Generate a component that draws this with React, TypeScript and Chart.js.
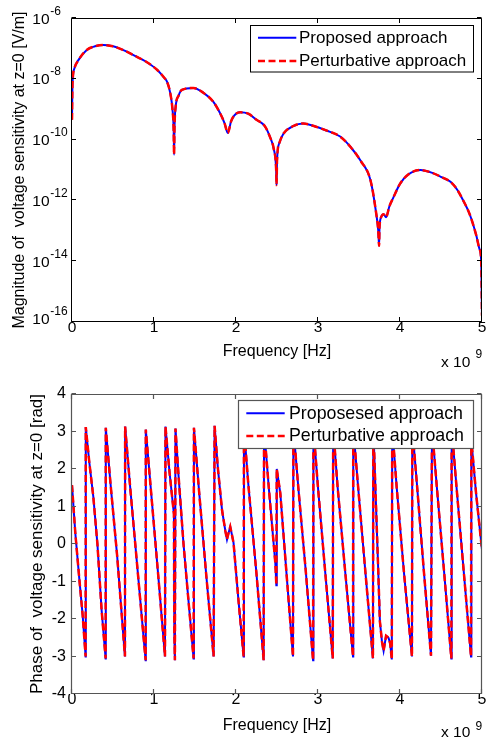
import React, { useEffect, useRef } from 'react';
import { Chart, registerables } from 'chart.js';

Chart.register(...registerables);

const FONT = '"Liberation Sans", Arial, Helvetica, sans-serif';

// ---------- tick labels ----------
const freqTicks = [0, 1, 2, 3, 4, 5];
const magTickExponents = [-16, -14, -12, -10, -8, -6];
const phaseTicks = [-4, -3, -2, -1, 0, 1, 2, 3, 4];

// ---------- top chart: magnitude (frequency in units of 1e9 Hz) ----------
const magFreq = [
  0.0, 0.005, 0.012, 0.03, 0.08, 0.18, 0.28, 0.38, 0.5, 0.62, 0.75, 0.9, 1.04, 1.12, 1.16, 1.2,
  1.225, 1.24, 1.245, 1.25, 1.265, 1.3, 1.34, 1.48, 1.6, 1.72, 1.8, 1.86, 1.9, 1.94, 1.98, 2.05,
  2.15, 2.25, 2.35, 2.42, 2.46, 2.49, 2.495, 2.5, 2.53, 2.58, 2.7, 2.82, 2.95, 3.1, 3.27, 3.4,
  3.52, 3.64, 3.71, 3.735, 3.745, 3.75, 3.77, 3.8, 3.83, 3.87, 3.92, 4.0, 4.1, 4.25, 4.4, 4.52,
  4.62, 4.7, 4.77, 4.85, 4.93, 4.97, 4.99, 5.0,
];
const magProposed = [
  4.5e-10, 5.0e-9, 1.26e-8, 2.24e-8, 4.2e-8, 8.9e-8, 1.17e-7, 1.29e-7, 1.17e-7, 8.9e-8, 6.0e-8, 3.7e-8, 1.95e-8, 1.12e-8, 7.9e-9, 3.2e-9,
  1.0e-9, 2.0e-10, 3.2e-11, 2.5e-10, 1.26e-9, 2.8e-9, 4.3e-9, 5.0e-9, 3.5e-9, 1.8e-9, 7.9e-10, 3.5e-10, 1.66e-10, 4.0e-10, 6.3e-10, 7.9e-10,
  7.1e-10, 4.5e-10, 2.8e-10, 1.12e-10, 5.0e-11, 1.0e-11, 3.2e-12, 2.0e-11, 7.9e-11, 1.58e-10, 2.8e-10, 3.4e-10, 2.8e-10, 2.0e-10, 1.26e-10, 5.6e-11,
  2.0e-11, 4.6e-12, 3.7e-13, 1.0e-13, 3.2e-14, 1.26e-13, 2.8e-13, 3.5e-13, 2.8e-13, 6.3e-13, 1.26e-12, 3.5e-12, 7.1e-12, 1.0e-11, 7.9e-12, 5.6e-12,
  4.0e-12, 2.2e-12, 1.0e-12, 3.5e-13, 7.1e-14, 2.5e-14, 1.07e-14, 1.6e-16,
];
const magPerturbative = magProposed;

// ---------- bottom chart: phase ----------
const phaseFreq = [
  0.0, 0.04, 0.09, 0.13, 0.166, 0.168, 0.21, 0.26, 0.31, 0.361, 0.41, 0.412, 0.47, 0.55, 0.646, 0.648,
  0.71, 0.8, 0.898, 0.9, 0.96, 1.05, 1.134, 1.14, 1.19, 1.243, 1.248, 1.255, 1.262, 1.3, 1.36, 1.42,
  1.483, 1.487, 1.55, 1.64, 1.727, 1.739, 1.78, 1.83, 1.87, 1.89, 1.91, 1.93, 1.95, 1.97, 2.03, 2.093,
  2.097, 2.15, 2.25, 2.337, 2.342, 2.4, 2.48, 2.492, 2.497, 2.54, 2.62, 2.695, 2.7, 2.76, 2.85, 2.94,
  2.944, 3.0, 3.09, 3.18, 3.185, 3.24, 3.33, 3.427, 3.43, 3.49, 3.58, 3.67, 3.675, 3.7, 3.73, 3.755,
  3.78, 3.8, 3.83, 3.86, 3.88, 3.9, 3.905, 3.96, 4.05, 4.146, 4.15, 4.21, 4.29, 4.378, 4.39, 4.45,
  4.54, 4.626, 4.63, 4.69, 4.78, 4.866, 4.87, 4.93, 5.0,
];
const phaseProposed = [
  1.57, 0.3, -0.95, -1.9, -3.0, 3.12, 2.2, 1.26, 0.0, -1.76, -3.05, 3.1, 1.6, -0.3, -3.0, 3.13,
  1.5, -0.7, -3.1, 3.05, 1.5, -0.8, -3.0, 3.13, 1.9, 0.8, -2.4, -3.1, 3.08, 1.8, 0.0, -1.5,
  -3.05, 3.1, 1.4, -0.9, -3.0, 3.15, 2.0, 0.9, 0.35, 0.12, 0.3, 0.46, 0.25, 0.03, -1.5, -3.0,
  3.1, 1.6, -0.8, -3.1, 3.1, 1.5, -0.52, -1.1, 2.0, 1.36, -0.9, -3.0, 3.1, 1.5, -0.7, -3.1,
  3.1, 1.5, -0.8, -3.05, 3.1, 1.5, -0.7, -3.0, 3.1, 1.5, -0.8, -3.05, 3.1, 1.5, -0.4, -2.07,
  -2.6, -2.85, -2.45, -2.5, -2.65, -3.08, 3.1, 1.5, -0.8, -3.0, 3.1, 1.5, -0.7, -2.98, 3.1, 1.5,
  -0.8, -3.05, 3.1, 1.5, -0.8, -3.0, 2.77, 1.3, -0.15,
];
const phasePerturbative = phaseProposed;

const BLUE = '#0000ff';
const RED = '#ff0000';

const framePlugin = {
  id: 'frameAndLegend',
  afterDraw(chart: any, _args: any, opts: any) {
    const { ctx, chartArea: a, scales } = chart;
    ctx.save();
    ctx.strokeStyle = opts.axisColor;
    ctx.lineWidth = opts.axisWidth;
    const L = a.left - 0.5, R = a.right - 0.5, T = a.top + 0.5, B = a.bottom - 0.5;
    ctx.beginPath();
    ctx.rect(L, T, R - L, B - T);
    ctx.stroke();
    const tl = 4.5;
    ctx.beginPath();
    for (const t of scales.x.ticks) {
      const px = Math.round(scales.x.getPixelForValue(t.value)) - 0.5;
      ctx.moveTo(px, B); ctx.lineTo(px, B - tl);
      ctx.moveTo(px, T); ctx.lineTo(px, T + tl);
    }
    for (const t of scales.y.ticks) {
      const py = Math.round(scales.y.getPixelForValue(t.value)) - 0.5;
      ctx.moveTo(L, py); ctx.lineTo(L + tl, py);
      ctx.moveTo(R, py); ctx.lineTo(R - tl, py);
    }
    ctx.stroke();

    // power-of-ten tick labels (base + raised exponent), placed by the y scale
    const pl = opts.powLabels;
    if (pl) {
      ctx.fillStyle = '#000';
      ctx.textBaseline = 'alphabetic';
      scales.y.ticks.forEach((t: any, i: number) => {
        let py = scales.y.getPixelForValue(t.value);
        if (i === 0) py -= pl.firstShift;
        const exp = String(Math.round(Math.log10(t.value)));
        ctx.font = `${pl.size}px ${FONT}`;
        ctx.textAlign = 'right';
        ctx.fillText('10', pl.x, py + pl.baseDy);
        ctx.font = `${pl.expSize}px ${FONT}`;
        ctx.textAlign = 'left';
        ctx.fillText(exp, pl.x + 0.8, py + pl.expDy);
      });
    }

    // legend
    const lg = opts.legend;
    ctx.fillStyle = '#fff';
    ctx.fillRect(lg.x0, lg.y0, lg.x1 - lg.x0, lg.y1 - lg.y0);
    ctx.strokeStyle = opts.axisColor;
    ctx.lineWidth = opts.axisWidth;
    ctx.strokeRect(lg.x0 + 0.5, lg.y0 + 0.5, lg.x1 - lg.x0, lg.y1 - lg.y0);
    chart.data.datasets.forEach((ds: any, i: number) => {
      const y = lg.rows[i];
      ctx.save();
      ctx.strokeStyle = ds.borderColor;
      ctx.lineWidth = ds.borderWidth;
      ctx.setLineDash(ds.borderDash || []);
      ctx.beginPath();
      ctx.moveTo(lg.s0, y);
      ctx.lineTo(lg.s1, y);
      ctx.stroke();
      ctx.restore();
      ctx.fillStyle = '#000';
      ctx.font = `${lg.fontSize}px ${FONT}`;
      ctx.textAlign = 'left';
      ctx.textBaseline = 'middle';
      ctx.fillText(ds.label, lg.tx, y + 0.5);
    });

    // exponent note
    const ex = opts.exp;
    ctx.fillStyle = '#000';
    ctx.textAlign = 'left';
    ctx.textBaseline = 'alphabetic';
    ctx.font = `${ex.size}px ${FONT}`;
    ctx.fillText('x 10', ex.x, ex.y);
    ctx.font = `${ex.supSize}px ${FONT}`;
    ctx.fillText('9', ex.supX, ex.supY);
    ctx.restore();
  },
};

function baseX(tickSize: number, tickPad: number, titleSize: number, titlePad: number, xHeight: number) {
  return {
    type: 'linear',
    min: 0,
    max: 5,
    afterBuildTicks: (s: any) => { s.ticks = freqTicks.map((v) => ({ value: v })); },
    afterFit: (s: any) => { s.height = xHeight; s.paddingLeft = 0; s.paddingRight = 0; },
    grid: { display: false, drawTicks: false },
    border: { display: false },
    ticks: {
      color: '#000', padding: tickPad, maxRotation: 0, autoSkip: false,
      font: { family: FONT, size: tickSize, lineHeight: 0.7 },
      callback: (v: any) => String(v),
    },
    title: {
      display: true, text: 'Frequency [Hz]', color: '#000',
      font: { family: FONT, size: titleSize },
      padding: { top: 0, bottom: titlePad },
    },
  };
}

export default function App() {
  const topRef = useRef<HTMLCanvasElement | null>(null);
  const botRef = useRef<HTMLCanvasElement | null>(null);

  useEffect(() => {
    const top = new Chart(topRef.current as HTMLCanvasElement, {
      type: 'line',
      data: {
        datasets: [
          {
            label: 'Proposed approach',
            data: magFreq.map((f, i) => ({ x: f, y: magProposed[i] })),
            borderColor: BLUE, borderWidth: 2, pointRadius: 0, order: 2,
            cubicInterpolationMode: 'monotone',
          },
          {
            label: 'Perturbative approach',
            data: magFreq.map((f, i) => ({ x: f, y: magPerturbative[i] })),
            borderColor: RED, borderWidth: 2.5, borderDash: [7, 3.5], pointRadius: 0, order: 1,
            cubicInterpolationMode: 'monotone',
          },
        ],
      } as any,
      options: {
        responsive: false,
        animation: false,
        devicePixelRatio: 1,
        layout: { padding: { left: 0, right: 4, top: 18, bottom: 0 }, autoPadding: false },
        plugins: {
          legend: { display: false },
          tooltip: { enabled: false },
          frameAndLegend: {
            axisColor: '#000', axisWidth: 1,
            powLabels: { x: 49.5, size: 15.5, baseDy: 5.5, expSize: 12, expDy: -3.5, firstShift: 4 },
            legend: { x0: 250, y0: 25, x1: 473, y1: 71.5, rows: [37.7, 61], s0: 258, s1: 296.3, tx: 299, fontSize: 17 },
            exp: { x: 441, y: 366.5, size: 15.5, supX: 475.5, supY: 358, supSize: 12 },
          },
        } as any,
        scales: {
          x: baseX(15.5, 0, 16, 10.9, 50) as any,
          y: {
            type: 'logarithmic',
            min: 1e-16,
            max: 1e-6,
            afterBuildTicks: (s: any) => { s.ticks = magTickExponents.map((e) => ({ value: Math.pow(10, e) })); },
            afterFit: (s: any) => { s.width = 72; s.paddingTop = 0; s.paddingBottom = 0; },
            grid: { display: false, drawTicks: false },
            border: { display: false },
            ticks: { display: false },
            title: {
              display: true, text: 'Magnitude of  voltage sensitivity at z=0 [V/m]', color: '#000',
              font: { family: FONT, size: 16 },
              padding: { top: 9.9, bottom: 0 },
            },
          } as any,
        },
      },
      plugins: [framePlugin],
    });

    const bot = new Chart(botRef.current as HTMLCanvasElement, {
      type: 'line',
      data: {
        datasets: [
          {
            label: 'Proposesed approach',
            data: phaseFreq.map((f, i) => ({ x: f, y: phaseProposed[i] })),
            borderColor: BLUE, borderWidth: 2, pointRadius: 0, order: 2,
          },
          {
            label: 'Perturbative approach',
            data: phaseFreq.map((f, i) => ({ x: f, y: phasePerturbative[i] })),
            borderColor: RED, borderWidth: 2.5, borderDash: [7, 3.5], pointRadius: 0, order: 1,
          },
        ],
      } as any,
      options: {
        responsive: false,
        animation: false,
        devicePixelRatio: 1,
        layout: { padding: { left: 0, right: 4, top: 22, bottom: 0 }, autoPadding: false },
        plugins: {
          legend: { display: false },
          tooltip: { enabled: false },
          frameAndLegend: {
            axisColor: '#555', axisWidth: 1.2,
            legend: { x0: 238, y0: 28, x1: 473, y1: 76, rows: [41.3, 64], s0: 246.3, s1: 284.7, tx: 289, fontSize: 17.8 },
            exp: { x: 441, y: 365, size: 15.5, supX: 475.5, supY: 357.5, supSize: 12 },
          },
        } as any,
        scales: {
          x: baseX(16, -0.5, 16, 7.4, 49) as any,
          y: {
            type: 'linear',
            min: -4,
            max: 4,
            afterBuildTicks: (s: any) => { s.ticks = phaseTicks.map((v) => ({ value: v })); },
            afterFit: (s: any) => { s.width = 72; s.paddingTop = 0; s.paddingBottom = 0; },
            grid: { display: false, drawTicks: false },
            border: { display: false },
            ticks: {
              color: '#000', padding: 6, autoSkip: false,
              font: { family: FONT, size: 16 },
              callback: (v: any) => String(v),
            },
            title: {
              display: true, text: 'Phase of  voltage sensitivity at z=0 [rad]', color: '#000',
              font: { family: FONT, size: 17 },
              padding: { top: 26.8, bottom: 0 },
            },
          } as any,
        },
      },
      plugins: [framePlugin],
    });

    return () => {
      top.destroy();
      bot.destroy();
    };
  }, []);

  return (
    <div style={{ position: 'absolute', left: 0, top: 0, width: 486, height: 743, background: '#fff' }}>
      <canvas ref={topRef} width={486} height={372} style={{ position: 'absolute', left: 0, top: 0 }} />
      <canvas ref={botRef} width={486} height={371} style={{ position: 'absolute', left: 0, top: 372 }} />
    </div>
  );
}
